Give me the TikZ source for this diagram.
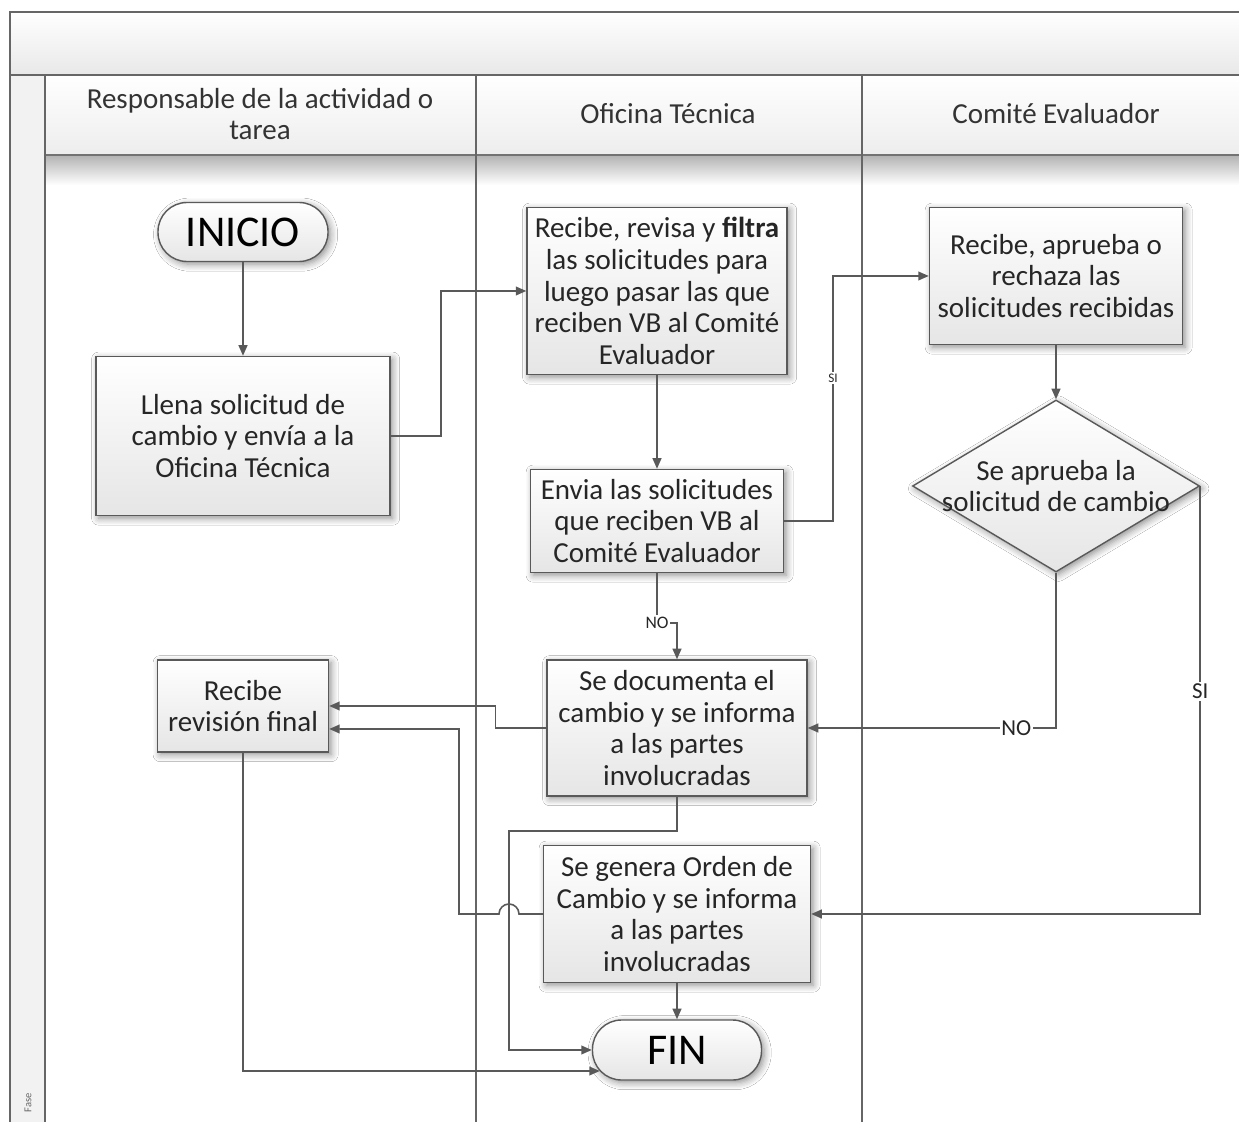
\documentclass[tikz,border=0pt]{standalone}
\usepackage{fontspec}
\setmainfont{Carlito}
\usetikzlibrary{arrows.meta,shadows.blur,shapes.geometric,calc}

\begin{document}
\begin{tikzpicture}[scale=0.2,
  txt/.style={font=\fontsize{16.5}{18}\selectfont, text=black!85, align=center},
  box/.style={txt, draw=black!65, line width=0.8pt, top color=white, bottom color=black!10, inner sep=2pt,
    blur shadow={shadow blur steps=6, shadow xshift=1.5pt, shadow yshift=-1.5pt, shadow blur radius=4pt, shadow opacity=45}},
  term/.style={box, rounded corners=0.58cm, font=\fontsize{25}{28}\selectfont, text=black},
  hdr/.style={txt, text=black!80},
  flow/.style={draw=black!65, line width=0.9pt, -{Triangle[length=6pt,width=5pt]}},
  lbl/.style={fill=white, inner sep=1pt, text=black!85, font=\fontsize{10}{11}\selectfont},
  biglbl/.style={lbl, font=\fontsize{13}{14}\selectfont}]
\useasboundingbox (0,0) rectangle (123.9,-112.2);
\fill[white] (0,0) rectangle (123.9,-112.2);
\shade[top color=white, bottom color=black!9] (1,-1.2) rectangle (123.9,-7.5);
\shade[top color=white, bottom color=black!7] (4.5,-7.5) rectangle (123.9,-15.5);
\fill[black!5] (1,-7.5) rectangle (4.5,-112.2);
\shade[top color=black!30, bottom color=white] (4.5,-15.5) rectangle (123.9,-18.5);
\draw[black!60, line width=1.5pt] (1,-112.2) -- (1,-1.2) -- (123.9,-1.2);
\draw[black!60, line width=1.2pt] (1,-7.5) -- (123.9,-7.5);
\draw[black!55, line width=1pt] (4.5,-15.5) -- (123.9,-15.5);
\draw[black!60, line width=1pt] (4.5,-7.5) -- (4.5,-112.2);
\draw[black!60, line width=1pt] (47.6,-7.5) -- (47.6,-112.2);
\draw[black!60, line width=1pt] (86.2,-7.5) -- (86.2,-112.2);
\node[hdr] (h1) at (26,-11.4) {Responsable de la actividad o\\tarea};
\node[hdr] (h2) at (66.8,-11.4) {Oficina Técnica};
\node[hdr] (h3) at (105.6,-11.4) {Comité Evaluador};
\node[rotate=90, font=\fontsize{6}{7}\selectfont, text=black!60] (fase) at (2.8,-110.3) {Fase};

\node[term, minimum width=3.4cm, minimum height=1.18cm] (inicio) at (24.3,-23.2) {INICIO};
\node[box, minimum width=5.88cm, minimum height=3.18cm] (llena) at (24.3,-43.6) {Llena solicitud de\\cambio y envía a la\\Oficina Técnica};
\node[box, minimum width=5.2cm, minimum height=3.34cm] (filtra) at (65.7,-29.1) {Recibe, revisa y \textbf{filtra}\\las solicitudes para\\luego pasar las que\\reciben VB al Comité\\Evaluador};
\node[box, minimum width=5.06cm, minimum height=2.06cm] (envia) at (65.7,-52.1) {Envia las solicitudes\\que reciben VB al\\Comité Evaluador};
\node[box, minimum width=5.06cm, minimum height=2.74cm] (aprueba) at (105.6,-27.6) {Recibe, aprueba o\\rechaza las\\solicitudes recibidas};
\node[box, shape=diamond, minimum width=5.74cm, minimum height=3.44cm,
  label={[txt]center:Se aprueba la\\solicitud de cambio}] (dec) at (105.6,-48.6) {};
\node[box, minimum width=5.2cm, minimum height=2.72cm] (documenta) at (67.7,-72.8) {Se documenta el\\cambio y se informa\\a las partes\\involucradas};
\node[box, minimum width=3.42cm, minimum height=1.84cm] (final) at (24.3,-70.6) {Recibe\\revisión final};
\node[box, minimum width=5.34cm, minimum height=2.74cm] (genera) at (67.7,-91.4) {Se genera Orden de\\Cambio y se informa\\a las partes\\involucradas};
\node[term, minimum width=3.38cm, minimum height=1.2cm] (fin) at (67.7,-105) {FIN};
\coordinate (jx) at (50.9,-83.1);

\draw[flow] (inicio) -- (llena);
\draw[flow] (llena.east) -- (44.1,-43.6) |- (filtra.west);
\draw[flow] (filtra) -- (envia);
\draw[flow] (envia.east) -| (83.3,-37.8) node[lbl, font=\fontsize{7.5}{8}\selectfont] {SI} |- (aprueba.west);
\draw[flow] (envia.south) -- (65.7,-62.3) node[lbl] {NO} -| (documenta.north);
\draw[flow] (aprueba) -- (dec);
\draw[flow] (dec.south) |- node[biglbl, pos=0.58] {NO} (documenta.east);
\draw[flow] (dec.east) |- node[biglbl, pos=0.24] {SI} (genera.east);
\draw[flow] (documenta.west) -- ++(-5.1,0) |- (final.east);
\draw[flow] (documenta.south) |- (jx) |- (fin.west);
\draw[flow] (genera.west) -- ($(genera.west -| jx)+(1,0)$) arc[start angle=0, end angle=180, radius=1]
  -- (45.9,-91.4) |- ($(final.east)+(0,-2.3)$);
\draw[flow] (final.south) |- ($(fin.west)+(0.8,-2.1)$);
\draw[flow] (genera) -- (fin);
\end{tikzpicture}
\end{document}
